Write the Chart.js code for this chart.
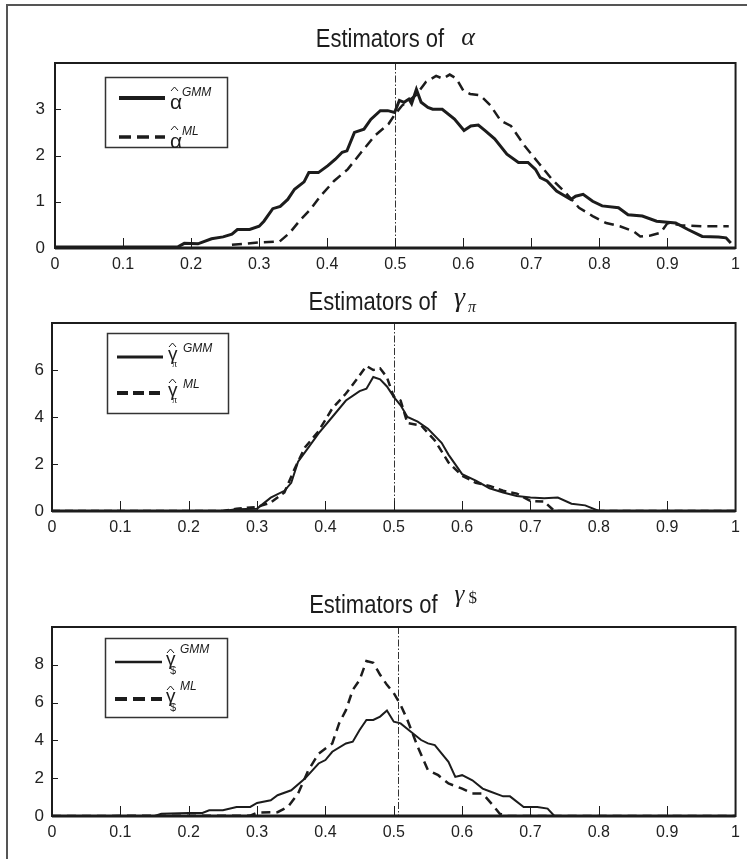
<!DOCTYPE html>
<html>
<head>
<meta charset="utf-8">
<script src="https://cdn.jsdelivr.net/npm/chart.js@4.4.1/dist/chart.umd.min.js"></script>
<style>
  body { margin: 0; background: #fff; }
  #page { position: relative; width: 747px; height: 859px; overflow: hidden; }
  #frame { position: absolute; left: 6px; top: 4px; right: -4px; bottom: -4px; border-left: 2px solid #555; border-top: 2px solid #555; }
  canvas { position: absolute; left: 0; }
</style>
</head>
<body>
<div id="page">
  <div id="frame"></div>
  <canvas id="chartAlpha" width="747" height="285" style="top:0px"></canvas>
  <canvas id="chartGammaPi" width="747" height="290" style="top:285px"></canvas>
  <canvas id="chartGammaUsd" width="747" height="284" style="top:575px"></canvas>
</div>
<script>
// Density estimates, as [x, density] pairs
const alphaGMM = [[0, 0.02], [0.18, 0.02], [0.19, 0.1], [0.21, 0.09], [0.23, 0.2], [0.247, 0.24], [0.26, 0.3], [0.268, 0.4],
  [0.286, 0.4], [0.30, 0.47], [0.307, 0.58], [0.32, 0.85], [0.331, 0.9], [0.342, 1.05], [0.352, 1.27], [0.366, 1.43],
  [0.373, 1.63], [0.387, 1.63], [0.401, 1.78], [0.412, 1.92], [0.422, 2.07], [0.429, 2.1], [0.44, 2.5], [0.454, 2.57],
  [0.464, 2.78], [0.478, 2.97], [0.489, 2.97], [0.499, 2.93], [0.506, 3.19], [0.513, 3.15], [0.52, 3.22], [0.524, 3.12],
  [0.531, 3.43], [0.538, 3.15], [0.548, 3.04], [0.555, 3.0], [0.569, 3.0], [0.587, 2.79], [0.601, 2.54], [0.611, 2.64],
  [0.622, 2.66], [0.632, 2.54], [0.646, 2.36], [0.664, 2.03], [0.681, 1.85], [0.695, 1.85], [0.706, 1.7], [0.713, 1.52],
  [0.723, 1.45], [0.737, 1.23], [0.758, 1.05], [0.765, 1.12], [0.776, 1.16], [0.79, 1.01], [0.804, 0.91], [0.828, 0.87],
  [0.842, 0.72], [0.863, 0.69], [0.884, 0.58], [0.912, 0.54], [0.93, 0.4], [0.951, 0.25], [0.975, 0.24], [0.986, 0.22],
  [0.993, 0.11]];
const alphaML = [[0.26, 0.07], [0.30, 0.12], [0.33, 0.14], [0.345, 0.33], [0.36, 0.6], [0.375, 0.83], [0.39, 1.12],
  [0.41, 1.45], [0.43, 1.7], [0.45, 2.07], [0.47, 2.43], [0.49, 2.68], [0.5, 2.9], [0.51, 3.08], [0.53, 3.3], [0.545, 3.59],
  [0.56, 3.72], [0.57, 3.66], [0.58, 3.75], [0.59, 3.66], [0.6, 3.4], [0.61, 3.33], [0.625, 3.3], [0.64, 3.08], [0.655, 2.75],
  [0.67, 2.64], [0.69, 2.21], [0.71, 1.85], [0.73, 1.49], [0.75, 1.2], [0.77, 0.87], [0.79, 0.69], [0.81, 0.54], [0.83, 0.47],
  [0.85, 0.36], [0.86, 0.25], [0.875, 0.27], [0.89, 0.33], [0.9, 0.54], [0.92, 0.49], [0.95, 0.47], [0.99, 0.47]];

const gammaPiGMM = [[0, 0], [0.25, 0], [0.27, 0.07], [0.3, 0.1], [0.32, 0.57], [0.34, 0.86], [0.35, 1.2], [0.36, 2.1],
  [0.375, 2.7], [0.39, 3.3], [0.41, 4.0], [0.43, 4.7], [0.45, 5.1], [0.46, 5.2], [0.47, 5.7], [0.48, 5.6], [0.49, 5.3],
  [0.5, 4.86], [0.51, 4.5], [0.52, 4.0], [0.535, 3.8], [0.55, 3.5], [0.57, 2.9], [0.58, 2.4], [0.6, 1.57], [0.62, 1.29],
  [0.64, 0.97], [0.66, 0.79], [0.68, 0.64], [0.7, 0.57], [0.72, 0.54], [0.74, 0.57], [0.76, 0.31], [0.78, 0.24], [0.8, 0], [1, 0]];
const gammaPiML = [[0, 0], [0.25, 0], [0.27, 0.1], [0.3, 0.17], [0.32, 0.36], [0.34, 0.79], [0.355, 1.8], [0.37, 2.7],
  [0.39, 3.4], [0.41, 4.36], [0.43, 5.0], [0.445, 5.57], [0.46, 6.17], [0.47, 6.0], [0.48, 6.07], [0.49, 5.69], [0.5, 4.86],
  [0.51, 4.7], [0.52, 3.74], [0.54, 3.64], [0.56, 3.0], [0.58, 2.07], [0.6, 1.5], [0.62, 1.2], [0.64, 1.07], [0.66, 0.86],
  [0.68, 0.74], [0.7, 0.43], [0.72, 0.4], [0.735, 0], [1, 0]];

const gammaUsdGMM = [[0, 0], [0.15, 0], [0.16, 0.12], [0.2, 0.16], [0.22, 0.16], [0.23, 0.3], [0.25, 0.3], [0.27, 0.48],
  [0.29, 0.48], [0.3, 0.69], [0.32, 0.83], [0.33, 1.1], [0.35, 1.36], [0.37, 1.98], [0.39, 2.78], [0.4, 2.96], [0.41, 3.4],
  [0.43, 3.84], [0.44, 3.93], [0.45, 4.55], [0.46, 5.08], [0.47, 5.08], [0.48, 5.26], [0.49, 5.58], [0.5, 4.99], [0.51, 4.9],
  [0.525, 4.46], [0.54, 4.02], [0.55, 3.84], [0.56, 3.75], [0.58, 2.87], [0.59, 2.07], [0.6, 2.16], [0.615, 1.89], [0.63, 1.45],
  [0.64, 1.31], [0.66, 1.04], [0.67, 1.04], [0.69, 0.48], [0.71, 0.48], [0.725, 0.39], [0.735, 0], [1, 0]];
const gammaUsdML = [[0, 0], [0.29, 0.02], [0.3, 0.18], [0.33, 0.2], [0.345, 0.48], [0.36, 1.19], [0.375, 2.42], [0.39, 3.3],
  [0.41, 3.84], [0.42, 4.9], [0.43, 5.6], [0.44, 6.67], [0.45, 7.2], [0.46, 8.2], [0.47, 8.1], [0.48, 7.47], [0.49, 6.94],
  [0.5, 6.5], [0.51, 5.88], [0.52, 5.08], [0.535, 3.66], [0.55, 2.42], [0.565, 2.16], [0.58, 1.72], [0.6, 1.45], [0.615, 1.19],
  [0.63, 1.19], [0.645, 0.57], [0.655, 0.12], [0.665, 0], [1, 0]];

const ink = '#1c1c1c';

// MATLAB-like box, inner ticks, reference line, title and legend
const matlabBox = {
  id: 'matlabBox',
  beforeDatasetsDraw(chart, args, opts) {
    const { ctx, chartArea: a } = chart;
    const xr = Math.round(chart.scales.x.getPixelForValue(opts.refLine)) + 0.5;
    ctx.save();
    ctx.strokeStyle = '#333';
    ctx.lineWidth = 1;
    ctx.setLineDash([7, 2, 1.5, 2]);
    ctx.beginPath();
    ctx.moveTo(xr, a.top);
    ctx.lineTo(xr, a.bottom);
    ctx.stroke();
    ctx.restore();
  },
  afterDatasetsDraw(chart, args, opts) {
    const { ctx, chartArea: a, scales } = chart;
    ctx.save();
    ctx.strokeStyle = ink;
    ctx.fillStyle = ink;

    // tick marks pointing into the plot
    ctx.lineWidth = 1;
    ctx.beginPath();
    scales.x.ticks.forEach(t => {
      if (t.value <= 0 || t.value >= 1) return;
      const px = Math.round(scales.x.getPixelForValue(t.value)) + 0.5;
      ctx.moveTo(px, a.bottom);
      ctx.lineTo(px, a.bottom - 10);
    });
    scales.y.ticks.forEach(t => {
      if (t.value <= 0 || t.value >= scales.y.max) return;
      const py = Math.round(scales.y.getPixelForValue(t.value)) + 0.5;
      ctx.moveTo(a.left, py);
      ctx.lineTo(a.left + 6, py);
    });
    ctx.stroke();

    // axes box
    ctx.lineWidth = 2;
    ctx.strokeRect(a.left, a.top, a.right - a.left, a.bottom - a.top);
    ctx.lineWidth = 3;
    ctx.beginPath();
    ctx.moveTo(a.left, a.bottom);
    ctx.lineTo(a.right, a.bottom);
    ctx.stroke();

    // title: "Estimators of" + math symbol
    const t = opts.title;
    const main = 'Estimators of';
    ctx.font = '25px "Liberation Sans"';
    const mainW = ctx.measureText(main).width * 0.88;
    ctx.font = t.symFont;
    const symW = ctx.measureText(t.sym).width + (t.sub ? t.subDx : 0);
    let tx = (a.left + a.right) / 2 - (mainW + 17 + symW) / 2;
    const base = a.top + t.dy;
    ctx.save();
    ctx.translate(tx, base);
    ctx.scale(0.88, 1);
    ctx.font = '25px "Liberation Sans"';
    ctx.fillText(main, 0, 0);
    ctx.restore();
    tx += mainW + 17;
    ctx.font = t.symFont;
    ctx.fillText(t.sym, tx, base + t.symDy);
    if (t.sub) {
      ctx.font = t.subFont;
      ctx.fillText(t.sub, tx + t.subDx, base + t.subDy);
    }

    // legend box
    const lg = opts.legend;
    const lx = a.left + lg.dx, ly = a.top + lg.dy;
    ctx.fillStyle = '#fff';
    ctx.fillRect(lx, ly, lg.w, lg.h);
    ctx.fillStyle = ink;
    ctx.strokeStyle = '#333';
    ctx.lineWidth = 1.5;
    ctx.strokeRect(lx + 0.5, ly + 0.5, lg.w, lg.h);
    ctx.strokeStyle = ink;
    lg.rows.forEach(r => {
      const ry = ly + r.y;
      ctx.lineWidth = r.width;
      ctx.setLineDash(r.dash);
      ctx.beginPath();
      ctx.moveTo(lx + lg.lineX[0], ry);
      ctx.lineTo(lx + lg.lineX[1], ry);
      ctx.stroke();
      ctx.setLineDash([]);
      const sx = lx + lg.symX;
      ctx.font = lg.glyphFont;
      ctx.fillText(lg.glyph, sx, ry + lg.glyphDy);
      // hat
      ctx.lineWidth = 1;
      ctx.beginPath();
      ctx.moveTo(sx + 1, ry + lg.hatDy);
      ctx.lineTo(sx + 4.5, ry + lg.hatDy - 4);
      ctx.lineTo(sx + 8, ry + lg.hatDy);
      ctx.stroke();
      if (lg.sub) {
        ctx.font = lg.subFont;
        ctx.fillText(lg.sub, sx + lg.subDx, ry + lg.subDy);
      }
      ctx.font = 'italic 12px "Liberation Sans"';
      ctx.fillText(r.label, sx + lg.supDx, ry + lg.supDy);
    });
    ctx.restore();
  }
};

function makeChart(p) {
  const ctx = document.getElementById(p.id).getContext('2d');
  return new Chart(ctx, {
    type: 'line',
    data: {
      datasets: [{
        label: 'GMM',
        data: p.gmm.map(([x, y]) => ({ x, y })),
        borderColor: ink,
        borderWidth: p.gmmWidth,
        pointRadius: 0,
        tension: 0
      }, {
        label: 'ML',
        data: p.ml.map(([x, y]) => ({ x, y })),
        borderColor: ink,
        borderWidth: p.mlWidth,
        borderDash: p.mlDash,
        pointRadius: 0,
        tension: 0
      }]
    },
    options: {
      responsive: false,
      animation: false,
      events: [],
      layout: { padding: p.padding },
      plugins: {
        legend: { display: false },
        tooltip: { enabled: false },
        matlabBox: { refLine: p.refLine, title: p.title, legend: p.legend }
      },
      scales: {
        x: {
          type: 'linear',
          min: 0,
          max: 1,
          grid: { display: false, drawTicks: false },
          border: { display: false },
          ticks: {
            stepSize: 0.1,
            padding: 7,
            color: '#222',
            font: { family: 'Liberation Sans', size: 16 },
            callback: (v) => String(Number(v.toFixed(2)))
          },
          afterFit: (scale) => { scale.height = 28; }
        },
        y: {
          min: 0,
          max: p.yMax,
          grid: { display: false, drawTicks: false },
          border: { display: false },
          ticks: {
            stepSize: p.yStep,
            padding: p.yPad,
            color: '#222',
            font: { family: 'Liberation Sans', size: 17 },
            callback: (v) => (v >= p.yMax ? '' : v)
          },
          afterFit: (scale) => { scale.width = 45; }
        }
      }
    },
    plugins: [matlabBox]
  });
}

makeChart({
  id: 'chartAlpha', gmm: alphaGMM, ml: alphaML, yMax: 4, yStep: 1, yPad: 10, refLine: 0.5,
  gmmWidth: 3, mlWidth: 2.5, mlDash: [10, 6],
  padding: { top: 63, left: 10, right: 9, bottom: 9 },
  title: { dy: -16, sym: 'α', symFont: 'italic 26px "Liberation Serif"', symDy: -2 },
  legend: {
    dx: 50, dy: 14, w: 122, h: 70, lineX: [14, 60], symX: 65,
    glyph: 'α', glyphFont: '21px "Liberation Sans"', glyphDy: 11, hatDy: -7,
    supDx: 12, supDy: -2,
    rows: [{ y: 21, label: 'GMM', width: 4, dash: [] }, { y: 60, label: 'ML', width: 3.5, dash: [12, 6] }]
  }
});

makeChart({
  id: 'chartGammaPi', gmm: gammaPiGMM, ml: gammaPiML, yMax: 8, yStep: 2, yPad: 8, refLine: 0.5,
  gmmWidth: 2, mlWidth: 2.5, mlDash: [8, 5],
  padding: { top: 38, left: 7, right: 9, bottom: 36 },
  title: { dy: -13, sym: 'γ', symFont: 'italic 28px "Liberation Serif"', symDy: -4,
    sub: 'π', subFont: 'italic 16px "Liberation Serif"', subDx: 14, subDy: 2 },
  legend: {
    dx: 55, dy: 10, w: 121, h: 80, lineX: [10, 56], symX: 61,
    glyph: 'γ', glyphFont: '19px "Liberation Sans"', glyphDy: 3, hatDy: -10,
    sub: 'π', subFont: '10px "Liberation Serif"', subDx: 4, subDy: 10,
    supDx: 15, supDy: -5,
    rows: [{ y: 24, label: 'GMM', width: 3, dash: [] }, { y: 60, label: 'ML', width: 4, dash: [11, 5] }]
  }
});

makeChart({
  id: 'chartGammaUsd', gmm: gammaUsdGMM, ml: gammaUsdML, yMax: 10, yStep: 2, yPad: 8, refLine: 0.506,
  gmmWidth: 2, mlWidth: 2.5, mlDash: [9, 6],
  padding: { top: 52, left: 7, right: 9, bottom: 15 },
  title: { dy: -14, sym: 'γ', symFont: 'italic 25px "Liberation Serif"', symDy: -11,
    sub: '$', subFont: '17px "Liberation Serif"', subDx: 14, subDy: -10 },
  legend: {
    dx: 53, dy: 11, w: 122, h: 79, lineX: [10, 57], symX: 61,
    glyph: 'γ', glyphFont: '19px "Liberation Sans"', glyphDy: 3, hatDy: -9,
    sub: '$', subFont: '11px "Liberation Sans"', subDx: 4, subDy: 12,
    supDx: 14, supDy: -9,
    rows: [{ y: 24, label: 'GMM', width: 2.5, dash: [] }, { y: 61, label: 'ML', width: 4, dash: [12, 6] }]
  }
});
</script>
</body>
</html>
